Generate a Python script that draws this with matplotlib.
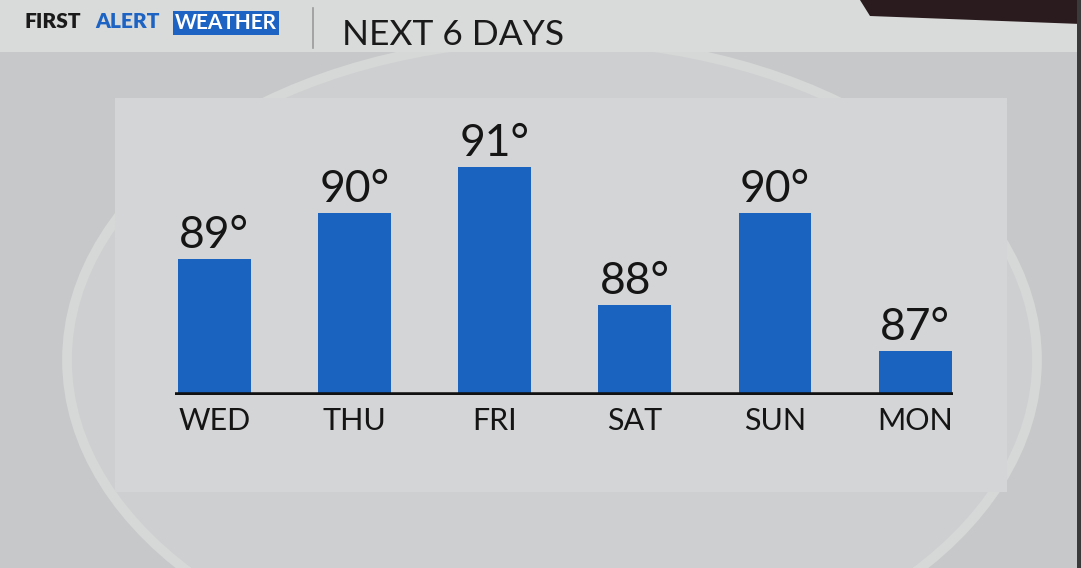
import numpy as np
import matplotlib.pyplot as plt
from matplotlib.patches import Rectangle, Ellipse, Polygon

days = ['WED', 'THU', 'FRI', 'SAT', 'SUN', 'MON']
highs = [89, 90, 91, 88, 90, 87]

W, H = 1081, 568
fig = plt.figure(figsize=(W / 100, H / 100), dpi=100)
fig.patch.set_facecolor('#c6c8c9')
plt.rcParams['font.family'] = ['Lato', 'DejaVu Sans']


def px(x, y):
    # pixel coords (top-left origin) -> figure fraction
    return x / W, 1 - y / H


# backdrop: header strip, big circle, panel
bg = fig.add_axes([0, 0, 1, 1])
bg.set_xlim(0, W)
bg.set_ylim(H, 0)
bg.axis('off')
bg.add_patch(Ellipse((552, 360), 970, 640, facecolor='#cdcfd0',
                     edgecolor='#d6d8d8', lw=7, zorder=1))
bg.add_patch(Rectangle((0, 0), W, 52, facecolor='#d9dada', zorder=2))
bg.add_patch(Polygon([(860, 0), (W, 0), (W, 24), (870, 16)],
                     closed=True, facecolor='#2a1c1e', zorder=3))
bg.add_patch(Rectangle((1077, 0), 4, H, facecolor='#3a3a3a', zorder=3))
bg.add_patch(Rectangle((115, 98), 892, 394, facecolor='#d4d5d6', zorder=2))
bg.plot([313, 313], [8, 48], color='#9a9a9a', lw=1.2, zorder=4)

bg.text(25, 22, 'FIRST', color='#1a1a1a', fontsize=15, weight='heavy',
        va='center', ha='left', zorder=5)
bg.text(95, 22, 'ALERT', color='#1c63c4', fontsize=15, weight='heavy',
        va='center', ha='left', zorder=5)
bg.text(175, 23, 'WEATHER', color='white', fontsize=15, weight='bold',
        va='center', ha='left', zorder=5,
        bbox=dict(boxstyle='square,pad=0.1', facecolor='#1c63c4',
                  edgecolor='none'))
bg.text(342, 35, 'NEXT 6 DAYS', color='#1a1a1a', fontsize=25.5,
        va='center', ha='left', zorder=5)

# chart
left, bottom = px(175, 395)
right, top = px(953, 130)
ax = fig.add_axes([left, bottom, right - left, top - bottom])
ax.patch.set_alpha(0.0)
x = np.arange(len(days))
bars = ax.bar(x, highs, width=0.52, bottom=0, color='#1a64c0', zorder=2)
ax.set_ylim(86.05, 86.05 + 265 / 46)
ax.set_xlim(-0.28, 5.27)
for xi, v in zip(x, highs):
    ax.text(xi, v + 0.08, '%d°' % v, ha='center', va='bottom',
            fontsize=32, color='#151515')
ax.axhline(86.05, color='#111111', lw=4, zorder=3)
for s in ax.spines.values():
    s.set_visible(False)
ax.set_yticks([])
ax.set_xticks(x)
ax.set_xticklabels(days, fontsize=22, color='#151515')
ax.tick_params(axis='x', length=0, pad=9)

fig.savefig('out.png', dpi=100, facecolor=fig.get_facecolor())
